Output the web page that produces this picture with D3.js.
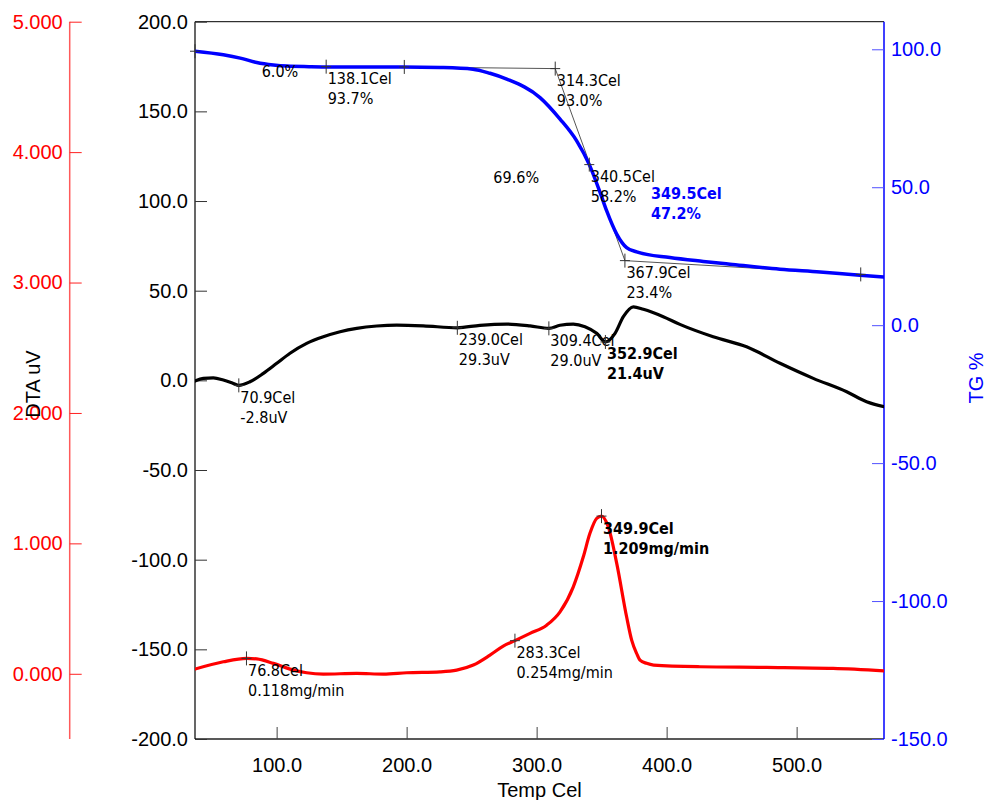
<!DOCTYPE html>
<html><head><meta charset="utf-8">
<script src="https://cdn.jsdelivr.net/npm/d3@7"></script>
<style>
body{margin:0;background:#fff;}
svg{display:block;}
.ax text{font-family:"Liberation Sans",Arial,sans-serif;font-size:20px;}
.ann{font-family:"DejaVu Sans Condensed","Liberation Sans",Arial,sans-serif;font-size:16px;}
</style>
</head><body>
<svg id="c" width="987" height="800"></svg>
<script>
// ---------- data ----------
const tgTemp = [37.2,59.0,72.0,84.7,97.5,107.8,125,141,170,197,225.7,251.0,264.1,277.0,302.6,318.0,330.8,340.5,349.5,353.9,361.6,369.2,376.9,402.5,428.2,448.7,487.2,518.0,548.7,567.2];
const tgVal  = [99.3,98.0,96.8,95.2,94.3,93.9,93.7,93.6,93.6,93.6,93.4,92.8,91.3,89.2,82.5,74.7,66.8,58.2,47.2,41.4,33.0,28.1,26.6,24.5,23.1,22.1,20.3,19.3,18.1,17.5];

const dtaTemp = [37.2,43.6,51.3,59.0,66.7,70.9,79.5,89.8,100.1,110.3,123.1,135.9,148.8,161.6,177.0,192.4,212.8,239.0,256.4,277.0,294.9,309.4,318.0,328.2,337.2,346.2,352.9,360.3,366.7,374.4,382.1,397.4,410.2,435.8,461.5,487.2,512.8,538.5,553.8,567.2];
const dtaVal  = [-0.4,1.1,1.4,0.2,-1.7,-2.8,-0.8,3.9,9.5,15.1,20.6,24.3,27.1,29.0,30.3,30.8,30.4,29.3,30.7,31.4,30.4,29.0,30.7,31.4,29.9,26.2,21.4,26.2,35.5,41.0,39.6,35.5,31.2,24.3,18.7,9.5,1.1,-6.4,-11.9,-14.7];

const dtgTemp = [37.2,59.0,77.0,84.7,97.5,110.3,123.1,135.9,161.6,182.1,200.1,225.7,238.5,251.3,264.1,274.3,283.3,294.9,307.7,318.0,328.2,335.9,341.0,346.2,349.9,355.1,361.6,369.2,373.1,376.9,379.5,384.6,390.0,425.6,476.9,528.1,567.2];
const dtgVal  = [0.036,0.092,0.118,0.114,0.080,0.036,0.008,-0.002,0.003,-0.002,0.008,0.015,0.028,0.067,0.143,0.212,0.254,0.310,0.373,0.475,0.667,0.897,1.077,1.192,1.209,1.127,0.847,0.437,0.258,0.156,0.105,0.080,0.067,0.054,0.049,0.041,0.023];

const xTicks   = [100,200,300,400,500];
const dtaTicks = [-200,-150,-100,-50,0,50,100,150,200];
const dtgTicks = [0,1,2,3,4,5];
const tgTicks  = [-150,-100,-50,0,50,100];

// analysis markers: [series, temp, value, line1, line2, bold]
const marks = [
  ["tg",37.2,99.3,"","",false],
  ["tg",138.1,93.7,"138.1Cel","93.7%",false],
  ["tg",198.2,93.6,"","",false],
  ["tg",314.3,93.0,"314.3Cel","93.0%",false],
  ["tg",340.5,58.2,"340.5Cel","58.2%",false],
  ["tg",367.9,23.4,"367.9Cel","23.4%",false],
  ["tg",549.3,18.4,"","",false],
  ["dta",70.9,-2.8,"70.9Cel","-2.8uV",false],
  ["dta",239.0,29.3,"239.0Cel","29.3uV",false],
  ["dta",309.4,29.0,"309.4Cel","29.0uV",false],
  ["dta",352.9,21.4,"352.9Cel","21.4uV",true],
  ["dtg",76.8,0.118,"76.8Cel","0.118mg/min",false],
  ["dtg",283.3,0.254,"283.3Cel","0.254mg/min",false],
  ["dtg",349.9,1.209,"349.9Cel","1.209mg/min",true]
];
// step labels (TG) anchored at temp/value
const stepLabels = [[88.5,90.0,"6.0%"],[266.7,51.7,"69.6%"]];
// TG peak label
const tgPeak = [349.5,47.2,"349.5Cel","47.2%"];
// tangent / baseline segments on TG: [t1,v1,t2,v2]
const tgTangents = [[198.2,93.6,314.3,93.0],[314.3,93.0,367.9,23.4],[367.9,23.4,549.3,18.4]];

// ---------- layout ----------
const L=195, R=884, T=21.7, B=739;
const svg = d3.select("#c");
const x = d3.scaleLinear().domain([37.2,567.2]).range([L,R]);
const yDta = d3.scaleLinear().domain([-200,200]).range([B,T]);
const yDtg = d3.scaleLinear().domain([-0.5,5]).range([B,T]);
const yTg  = d3.scaleLinear().domain([-150,110]).range([B,T]);
const ys = {tg:yTg, dta:yDta, dtg:yDtg};
const f1 = d => d.toFixed(1);
const f3 = d => d.toFixed(3);

svg.append("clipPath").attr("id","clip").append("rect").attr("x",L).attr("y",T).attr("width",R-L).attr("height",B-T);

// frame
svg.append("line").attr("x1",L).attr("x2",R).attr("y1",T).attr("y2",T).attr("stroke","#000").attr("stroke-width",1);
svg.append("line").attr("x1",L).attr("x2",R).attr("y1",B).attr("y2",B).attr("stroke","#222").attr("stroke-width",1.5);
svg.append("line").attr("x1",L).attr("x2",L).attr("y1",T).attr("y2",B).attr("stroke","#000").attr("stroke-width",1.2);

// DTA axis (left, black)
const gDta = svg.append("g").attr("class","ax").attr("transform",`translate(${L},0)`)
  .call(d3.axisLeft(yDta).tickValues(dtaTicks).tickFormat(f1).tickSizeInner(-12).tickSizeOuter(0).tickPadding(7));
gDta.select(".domain").remove();
gDta.selectAll(".tick line").attr("stroke","#333");
gDta.selectAll("text").attr("fill","#000");

// DTG axis (far left, red)
const RA = 69.7;
svg.append("line").attr("x1",RA).attr("x2",RA).attr("y1",T).attr("y2",B).attr("stroke","#ff5a5a").attr("stroke-width",1.5);
const gDtg = svg.append("g").attr("class","ax").attr("transform",`translate(${RA},0)`)
  .call(d3.axisLeft(yDtg).tickValues(dtgTicks).tickFormat(f3).tickSizeInner(-12).tickSizeOuter(0).tickPadding(7));
gDtg.select(".domain").remove();
gDtg.selectAll(".tick line").attr("stroke","#ff2020");
gDtg.selectAll("text").attr("fill","#ff0000");

// TG axis (right, blue)
svg.append("line").attr("x1",R).attr("x2",R).attr("y1",T).attr("y2",B).attr("stroke","#0000ff").attr("stroke-width",1.5);
const gTg = svg.append("g").attr("class","ax").attr("transform",`translate(${R},0)`)
  .call(d3.axisRight(yTg).tickValues(tgTicks).tickFormat(f1).tickSizeInner(-12).tickSizeOuter(0).tickPadding(7));
gTg.select(".domain").remove();
gTg.selectAll(".tick line").attr("stroke","#5050ff");
gTg.selectAll("text").attr("fill","#0000ff");

// X axis
const gX = svg.append("g").attr("class","ax").attr("transform",`translate(0,${B})`)
  .call(d3.axisBottom(x).tickValues(xTicks).tickFormat(f1).tickSizeInner(-12).tickSizeOuter(0).tickPadding(19));
gX.select(".domain").remove();
gX.selectAll(".tick line").attr("stroke","#444");
gX.selectAll("text").attr("fill","#000");

// axis titles
const titleFont = '"Liberation Sans",Arial,sans-serif';
svg.append("text").attr("x",(L+R)/2).attr("y",797).attr("text-anchor","middle")
  .attr("font-family",titleFont).attr("font-size",20).attr("fill","#000").text("Temp Cel");
svg.append("text").attr("transform","translate(40,384) rotate(-90)").attr("text-anchor","middle")
  .attr("font-family",titleFont).attr("font-size",20).attr("fill","#000").text("DTA uV");
svg.append("text").attr("transform","translate(983,378) rotate(-90)").attr("text-anchor","middle")
  .attr("font-family",titleFont).attr("font-size",20).attr("fill","#0000ff").text("TG %");

// tangents
const plot = svg.append("g").attr("clip-path","url(#clip)");
plot.selectAll(".tan").data(tgTangents).join("line")
  .attr("x1",d=>x(d[0])).attr("y1",d=>yTg(d[1])).attr("x2",d=>x(d[2])).attr("y2",d=>yTg(d[3]))
  .attr("stroke","#555").attr("stroke-width",1);

// curves
function drawCurve(temps, vals, yScale, color, w){
  const pts = temps.map((t,i)=>[t,vals[i]]);
  const line = d3.line().x(d=>x(d[0])).y(d=>yScale(d[1])).curve(d3.curveMonotoneX);
  plot.append("path").attr("d",line(pts)).attr("fill","none").attr("stroke",color)
    .attr("stroke-width",w).attr("stroke-linejoin","round").attr("stroke-linecap","round");
}
drawCurve(dtgTemp, dtgVal, yDtg, "#ff0000", 3.2);
drawCurve(dtaTemp, dtaVal, yDta, "#000000", 3.2);
drawCurve(tgTemp, tgVal, yTg, "#0000ff", 3.5);

// markers
marks.forEach(m=>{
  const px = x(m[1]), py = ys[m[0]](m[2]);
  svg.append("line").attr("x1",px).attr("x2",px).attr("y1",py-7).attr("y2",py+7).attr("stroke","#333").attr("stroke-width",1);
  svg.append("line").attr("x1",px-5).attr("x2",px+5).attr("y1",py).attr("y2",py).attr("stroke","#333").attr("stroke-width",1);
  if(m[3]){
    const t = svg.append("text").attr("class","ann").attr("x",px+1.5).attr("y",py+17.5)
      .attr("fill","#000").attr("font-weight",m[5]?"bold":"normal");
    t.append("tspan").attr("x",px+1.5).text(m[3]);
    t.append("tspan").attr("x",px+1.5).attr("dy",20).text(m[4]);
  }
});
stepLabels.forEach(s=>{
  svg.append("text").attr("class","ann").attr("x",x(s[0])).attr("y",yTg(s[1])).attr("fill","#000").text(s[2]);
});
{
  const px = x(tgPeak[0]) + 50, py = yTg(tgPeak[1]) + 4;
  const t = svg.append("text").attr("class","ann").attr("x",px).attr("y",py).attr("fill","#0000ff").attr("font-weight","bold");
  t.append("tspan").attr("x",px).text(tgPeak[2]);
  t.append("tspan").attr("x",px).attr("dy",20).text(tgPeak[3]);
}
</script>
</body></html>
